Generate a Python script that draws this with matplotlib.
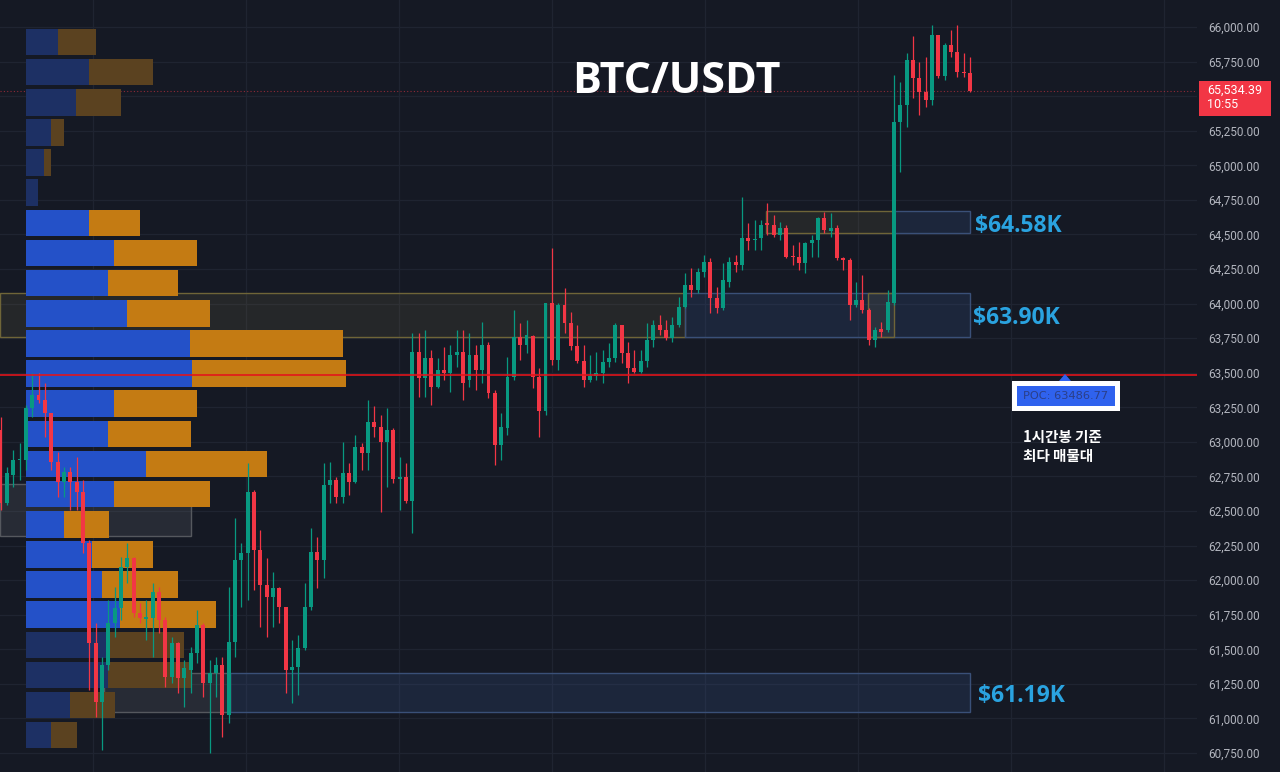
import numpy as np
import matplotlib.pyplot as plt
from matplotlib.patches import Rectangle, Polygon

# BTC/USDT 1h candles, oldest first
opens = [63085, 62560, 62760, 62870, 62870, 63245, 63340, 63300, 63210, 62855,
         62710, 62780, 62710, 62635, 62270, 61545, 61120, 61385, 61690, 61800,
         62095, 62160, 61760, 61720, 61725, 61915, 61710, 61300, 61545, 61290,
         61350, 61475, 61675, 61255, 61330, 61385, 61025, 61550, 62145, 62195,
         62635, 62220, 61965, 61880, 61945, 61805, 61350, 61370, 61510, 61805,
         62205, 62145, 62690, 62725, 62600, 62775, 62710, 62965, 62920, 63145,
         63105, 63000, 63085, 62730, 62745, 62570, 63650, 63460, 63605, 63395,
         63520, 63500, 63630, 63650, 63445, 63630, 63520, 63700, 63355, 62975,
         63100, 63470, 63760, 63700, 63765, 63470, 63225, 64005, 63590, 63990,
         63860, 63695, 63585, 63445, 63475, 63500, 63575, 63605, 63845, 63640,
         63535, 63505, 63585, 63735, 63845, 63810, 63750, 63845, 63975, 64135,
         64100, 64230, 64300, 64040, 63970, 64155, 64300, 64280, 64475, 64460,
         64475, 64580, 64570, 64495, 64545, 64345, 64335, 64295, 64440, 64460,
         64620, 64525, 64545, 64330, 64315, 63990, 64025, 63955, 63735, 63815,
         63810, 64005, 65315, 65435, 65760, 65630, 65530, 65470, 65940, 65645,
         65870, 65820, 65675, 65665]
highs = [63180, 62820, 62940, 62990, 63265, 63500, 63500, 63425, 63210, 62925,
         62820, 62820, 62890, 62725, 62290, 61690, 61445, 61855, 61950, 62165,
         62270, 62165, 61835, 61855, 61980, 61950, 61735, 61590, 61550, 61420,
         61515, 61785, 61690, 61420, 61445, 61445, 61950, 62450, 62270, 62845,
         62650, 62360, 62160, 62060, 61950, 61805, 61565, 61605, 61980, 62375,
         62310, 62845, 62855, 62745, 63000, 62845, 63050, 62990, 63300, 63260,
         63195, 63245, 63100, 62890, 62845, 63785, 63785, 63810, 63665, 63605,
         63685, 63700, 63810, 63810, 63785, 63700, 63865, 63720, 63375, 63210,
         63615, 63955, 63860, 63880, 63770, 63535, 64005, 64400, 64005, 64110,
         63940, 63845, 63700, 63630, 63650, 63665, 63715, 63860, 63845, 63720,
         63665, 63665, 63860, 63880, 63915, 63880, 63905, 64045, 64220, 64255,
         64255, 64350, 64330, 64120, 64295, 64335, 64350, 64770, 64580, 64605,
         64605, 64725, 64640, 64590, 64570, 64425, 64445, 64445, 64495, 64625,
         64660, 64655, 64570, 64335, 64330, 64155, 64205, 63970, 63830, 63865,
         64100, 65655, 65600, 65810, 65935, 65745, 65785, 66015, 65940, 65885,
         65980, 66015, 65810, 65785]
lows = [62505, 62545, 62675, 62725, 62795, 63180, 63280, 63035, 62795, 62600,
        62600, 62505, 62505, 62195, 61205, 61010, 60770, 61350, 61590, 61710,
        61980, 61735, 61690, 61565, 61445, 61620, 61225, 61255, 61185, 61080,
        61185, 61400, 61155, 60750, 61155, 60865, 60965, 61445, 61805, 61855,
        61930, 61660, 61590, 61660, 61690, 61185, 61110, 61170, 61495, 61785,
        61945, 62015, 62560, 62560, 62560, 62615, 62700, 62795, 62795, 63035,
        62490, 62675, 62700, 62505, 62560, 62340, 63325, 63325, 63265, 63390,
        63445, 63360, 63540, 63300, 63395, 63375, 63425, 63315, 62830, 62870,
        63050, 63445, 63590, 63640, 63390, 63035, 63195, 63555, 63520, 63785,
        63665, 63570, 63395, 63435, 63445, 63425, 63540, 63575, 63570, 63425,
        63500, 63500, 63540, 63685, 63770, 63735, 63720, 63830, 63970, 64045,
        64075, 64190, 63930, 63930, 63955, 64120, 64230, 64245, 64385, 64385,
        64385, 64495, 64480, 64460, 64330, 64280, 64245, 64220, 64335, 64335,
        64510, 64480, 64315, 64245, 63880, 63975, 63930, 63700, 63685, 63760,
        63795, 63990, 64950, 65275, 65485, 65365, 65420, 65435, 65630, 65615,
        65785, 65640, 65640, 65530]
closes = [62560, 62775, 62870, 62875, 63245, 63340, 63300, 63210, 62855, 62710,
          62780, 62710, 62635, 62270, 61545, 61120, 61385, 61690, 61800, 62095,
          62160, 61760, 61725, 61735, 61915, 61710, 61300, 61545, 61290, 61365,
          61475, 61675, 61255, 61330, 61385, 61025, 61550, 62145, 62195, 62635,
          62220, 61965, 61880, 61945, 61805, 61350, 61370, 61510, 61805, 62205,
          62145, 62690, 62725, 62600, 62775, 62710, 62965, 62920, 63145, 63105,
          63000, 63085, 62730, 62745, 62570, 63650, 63460, 63605, 63395, 63520,
          63500, 63630, 63650, 63425, 63630, 63520, 63700, 63355, 62975, 63105,
          63470, 63760, 63700, 63770, 63470, 63225, 64005, 63590, 63990, 63860,
          63695, 63585, 63445, 63475, 63500, 63575, 63605, 63845, 63640, 63535,
          63505, 63585, 63735, 63845, 63810, 63750, 63845, 63975, 64135, 64100,
          64230, 64300, 64040, 63970, 64170, 64300, 64280, 64475, 64450, 64465,
          64570, 64570, 64495, 64545, 64335, 64335, 64295, 64440, 64460, 64620,
          64530, 64545, 64330, 64315, 63990, 64025, 63955, 63735, 63810, 63795,
          64010, 65315, 65435, 65760, 65630, 65530, 65470, 65940, 65645, 65870,
          65820, 65675, 65665, 65534.39]

# volume profile rows, bottom to top (buy / sell volume)
vp_buy = [25, 44, 82, 84, 94, 76, 66, 38, 88, 120, 82, 88,
          166, 164, 101, 82, 88, 63, 12, 18, 25, 50, 63, 32]
vp_sell = [26, 45, 83, 74, 96, 76, 61, 45, 96, 121, 83, 83,
           154, 153, 83, 70, 83, 51, 0, 7, 13, 45, 64, 38]
vp_in_va = [0, 0, 0, 0, 1, 1, 1, 1, 1, 1, 1, 1,
            1, 1, 1, 1, 1, 1, 0, 0, 0, 0, 0, 0]
vp_low, vp_high = 60770, 66000

poc = 63486.77
last_price = 65534.39

# support zones: label, low, high
zone_names = ['$64.58K', '$63.90K', '$61.19K']
zone_low = [64510, 63760, 61045]
zone_high = [64670, 64075, 61330]

bg = '#151924'
green = '#089981'
red = '#f23645'
bold_font = ['Open Sans', 'DejaVu Sans']

W, H = 1280, 772
px_per_bar = 6.337
fig = plt.figure(figsize=(W / 100, H / 100), dpi=100, facecolor=bg)
ax = fig.add_axes([0, 0, 1197 / W, 1])
ax.set_facecolor(bg)
ax.set_xlim(-0.08, 188.8)
ax.set_ylim(60613, 66195)
for s in ax.spines.values():
    s.set_visible(False)

# grid + price scale (65,500 sits under the last-price tag)
ticks = np.arange(60750, 66001, 250)
ax.set_yticks(ticks)
ax.set_yticklabels(['' if t == 65500 else f'{t:,.2f}' for t in ticks],
                   fontfamily='Roboto')
ax.yaxis.tick_right()
ax.tick_params(axis='y', length=0, pad=8, labelsize=8.5, labelcolor='#b2b5be')
ax.set_xticks(np.arange(14.6, 188, 24.15))
ax.tick_params(axis='x', length=0, labelbottom=False)
ax.grid(color='#1f2431', lw=0.9)
ax.set_axisbelow(True)

# volume profile, anchored at the left edge
step = (vp_high - vp_low) / len(vp_buy)
centers = vp_low + step * (np.arange(len(vp_buy)) + 0.5)
buy = np.array(vp_buy) / px_per_bar
sell = np.array(vp_sell) / px_per_bar
left = 25.5 / px_per_bar
va = np.array(vp_in_va, bool)
ax.barh(centers, buy, left=left, height=step * 0.88,
        color=np.where(va, '#2451c8', '#1d3064'), zorder=3)
ax.barh(centers, sell, left=left + buy, height=step * 0.88,
        color=np.where(va, '#c47b13', '#5b4220'), zorder=3)

# zones (drawn under the profile bars)
olive = dict(facecolor=(0.55, 0.5, 0.3, 0.14), edgecolor='#6f6538', lw=1, zorder=2)
blue = dict(facecolor=(0.2, 0.3, 0.5, 0.26), edgecolor='#3a5078', lw=1, zorder=2)
gray = dict(facecolor=(0.45, 0.46, 0.48, 0.2), edgecolor='#55585e', lw=1, zorder=2)
ax.add_patch(Rectangle((120.8, zone_low[0]), 20.2, zone_high[0] - zone_low[0], **olive))
ax.add_patch(Rectangle((141.0, zone_low[0]), 12.0, zone_high[0] - zone_low[0], **blue))
ax.add_patch(Rectangle((-0.1, zone_low[1]), 108.1, zone_high[1] - zone_low[1], **olive))
ax.add_patch(Rectangle((108.0, zone_low[1]), 45.0, zone_high[1] - zone_low[1], **blue))
ax.add_patch(Rectangle((136.9, zone_low[1]), 4.1, zone_high[1] - zone_low[1], **olive))
ax.add_patch(Rectangle((16.3, zone_low[2]), 19.9, zone_high[2] - zone_low[2], **gray))
ax.add_patch(Rectangle((36.2, zone_low[2]), 116.8, zone_high[2] - zone_low[2], **blue))
ax.add_patch(Rectangle((-0.1, 62320), 30.2, 375, **gray))

# candles
o, h, l, c = (np.array(a, float) for a in (opens, highs, lows, closes))
idx = np.arange(len(o))
col = np.where(c >= o, green, red)
ax.vlines(idx, l, h, colors=col, lw=0.9, zorder=5)
ax.bar(idx, np.maximum(np.abs(c - o), 8), width=0.62,
       bottom=np.minimum(o, c), color=col, lw=0, zorder=6)

ax.axhline(poc, color='#e3141b', lw=1.3, alpha=0.9, zorder=7)
ax.axhline(last_price, color=red, lw=0.8, ls=(0, (1, 2)), alpha=0.55, zorder=1)

# zone labels
lab = dict(color='#2aa3e0', fontsize=16.5, fontweight='bold',
           family=bold_font, va='baseline', zorder=8)
ax.text(153.8, 64520, zone_names[0], **lab)
ax.text(153.5, 63852, zone_names[1], **lab)
ax.text(154.3, 61119, zone_names[2], **lab)


def fx(x):
    return x / W


def fy(y):
    return 1 - y / H


fig.text(fx(676), fy(93), 'BTC/USDT', ha='center', va='baseline', color='white',
         fontsize=31, fontweight='bold', family=bold_font)

# last price tag
fig.patches.append(Rectangle((fx(1199), fy(116)), 72 / W, 35 / H,
                             transform=fig.transFigure, facecolor=red, lw=0))
fig.text(fx(1207), fy(90), '65,534.39', color='white', fontsize=9,
         family='Roboto', va='center')
fig.text(fx(1207), fy(105), '10:55', color='white', fontsize=9,
         family='Roboto', va='center')

# POC tag
fig.patches.append(Rectangle((fx(1012), fy(411)), 108 / W, 30 / H,
                             transform=fig.transFigure, facecolor='white', lw=0))
fig.patches.append(Rectangle((fx(1017), fy(406)), 98 / W, 20 / H,
                             transform=fig.transFigure, facecolor='#2f62ee', lw=0))
fig.patches.append(Polygon([(fx(1059), fy(381)), (fx(1071), fy(381)), (fx(1065), fy(374))],
                           transform=fig.transFigure, facecolor='#2f62ee', lw=0))
fig.text(fx(1066), fy(396), f'POC: {poc}', ha='center', va='center',
         color='#2b3f88', fontsize=8.2)

kr = ['Noto Sans CJK KR', 'DejaVu Sans']
fig.text(fx(1023), fy(442), '1시간봉 기준', color='white', fontsize=10.5,
         family=kr, fontweight='bold', va='baseline')
fig.text(fx(1023), fy(461), '최다 매물대', color='white', fontsize=10.5,
         family=kr, fontweight='bold', va='baseline')

fig.savefig('out.png', dpi=100, facecolor=bg)
